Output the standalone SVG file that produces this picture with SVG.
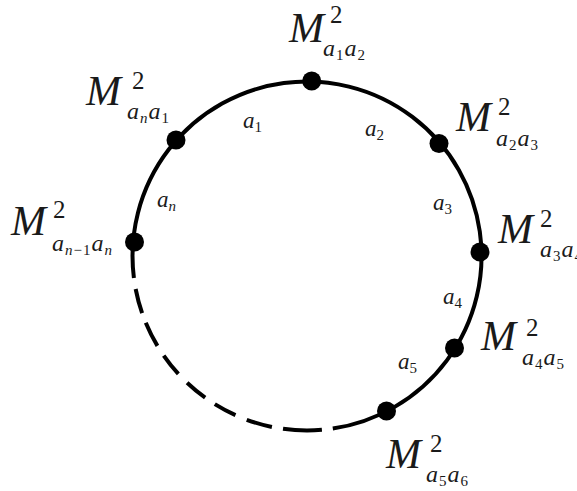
<svg xmlns="http://www.w3.org/2000/svg" width="577" height="491" viewBox="0 0 577 491">
<style>
.arc{fill:none;stroke:#000;stroke-width:4;stroke-linecap:butt}
.dot{fill:#000}
text{font-family:"Liberation Serif","Times New Roman",serif;fill:#1a1a1a}
.m{font-size:42px;font-style:italic}
.sup{font-size:25px}
.sub{font-size:24px;font-style:italic;letter-spacing:1px}
.ss{font-size:15px;font-style:normal}
.si{font-size:15px;font-style:italic}
.el{font-size:23px;font-style:italic}
</style>
<rect width="577" height="491" fill="#fff"/>
<g id="connectors">
<path class="arc" d="M332.8 428.6 A174.5 174.5 0 1 0 133.9 277.9"/>
<path class="arc" d="M135.65 289 A174.5 174.5 0 0 0 142.11 313.1"/>
<path class="arc" d="M145.78 322.78 A174.5 174.5 0 0 0 157.42 345.87"/>
<path class="arc" d="M163.71 355.59 A174.5 174.5 0 0 0 178.34 373.89"/>
<path class="arc" d="M187.1 382.79 A174.5 174.5 0 0 0 205.17 397.71"/>
<path class="arc" d="M214.81 404.16 A174.5 174.5 0 0 0 235.47 415.16"/>
<path class="arc" d="M246.74 419.77 A174.5 174.5 0 0 0 271.91 426.94"/>
<path class="arc" d="M283.02 428.84 A174.5 174.5 0 0 0 321.9 429.86"/>
<text class="el" x="243" y="128">a<tspan class="ss" dy="4">1</tspan></text>
<text class="el" x="365" y="136">a<tspan class="ss" dy="4">2</tspan></text>
<text class="el" x="433" y="210">a<tspan class="ss" dy="4">3</tspan></text>
<text class="el" x="443" y="304">a<tspan class="ss" dy="4">4</tspan></text>
<text class="el" x="398" y="369">a<tspan class="ss" dy="4">5</tspan></text>
<text class="el" x="157" y="207">a<tspan class="si" dy="4">n</tspan></text>
</g>
<g id="node-a1a2">
<circle class="dot" cx="311.7" cy="81" r="9.5"/>
<text class="m" x="289" y="42">M</text>
<text class="sup" x="330" y="23">2</text>
<text class="sub" x="323" y="56">a<tspan class="ss" dy="4">1</tspan><tspan dy="-4">a</tspan><tspan class="ss" dy="4">2</tspan></text>
</g>
<g id="node-ana1">
<circle class="dot" cx="176" cy="140" r="9.5"/>
<text class="m" x="86" y="105">M</text>
<text class="sup" x="132" y="89">2</text>
<text class="sub" x="127" y="119">a<tspan class="si" dy="4">n</tspan><tspan dy="-4">a</tspan><tspan class="ss" dy="4">1</tspan></text>
</g>
<g id="node-an1an">
<circle class="dot" cx="134.5" cy="242" r="9.5"/>
<text class="m" x="11" y="235">M</text>
<text class="sup" x="53" y="218">2</text>
<text class="sub" x="52" y="251">a<tspan class="si" dy="4">n</tspan><tspan class="ss">−1</tspan><tspan dy="-4">a</tspan><tspan class="si" dy="4">n</tspan></text>
</g>
<g id="node-a2a3">
<circle class="dot" cx="439" cy="143.5" r="9.5"/>
<text class="m" x="456" y="131">M</text>
<text class="sup" x="498" y="115">2</text>
<text class="sub" x="496" y="146">a<tspan class="ss" dy="4">2</tspan><tspan dy="-4">a</tspan><tspan class="ss" dy="4">3</tspan></text>
</g>
<g id="node-a3a4">
<circle class="dot" cx="480" cy="252" r="9.5"/>
<text class="m" x="498" y="243">M</text>
<text class="sup" x="540" y="227">2</text>
<text class="sub" x="540" y="257">a<tspan class="ss" dy="4">3</tspan><tspan dy="-4">a</tspan><tspan class="ss" dy="4">4</tspan></text>
</g>
<g id="node-a4a5">
<circle class="dot" cx="454.5" cy="348" r="9.5"/>
<text class="m" x="481" y="350">M</text>
<text class="sup" x="526" y="336">2</text>
<text class="sub" x="522" y="365">a<tspan class="ss" dy="4">4</tspan><tspan dy="-4">a</tspan><tspan class="ss" dy="4">5</tspan></text>
</g>
<g id="node-a5a6">
<circle class="dot" cx="386.5" cy="411" r="9.5"/>
<text class="m" x="386" y="468">M</text>
<text class="sup" x="430" y="452">2</text>
<text class="sub" x="426" y="482">a<tspan class="ss" dy="4">5</tspan><tspan dy="-4">a</tspan><tspan class="ss" dy="4">6</tspan></text>
</g>
</svg>
